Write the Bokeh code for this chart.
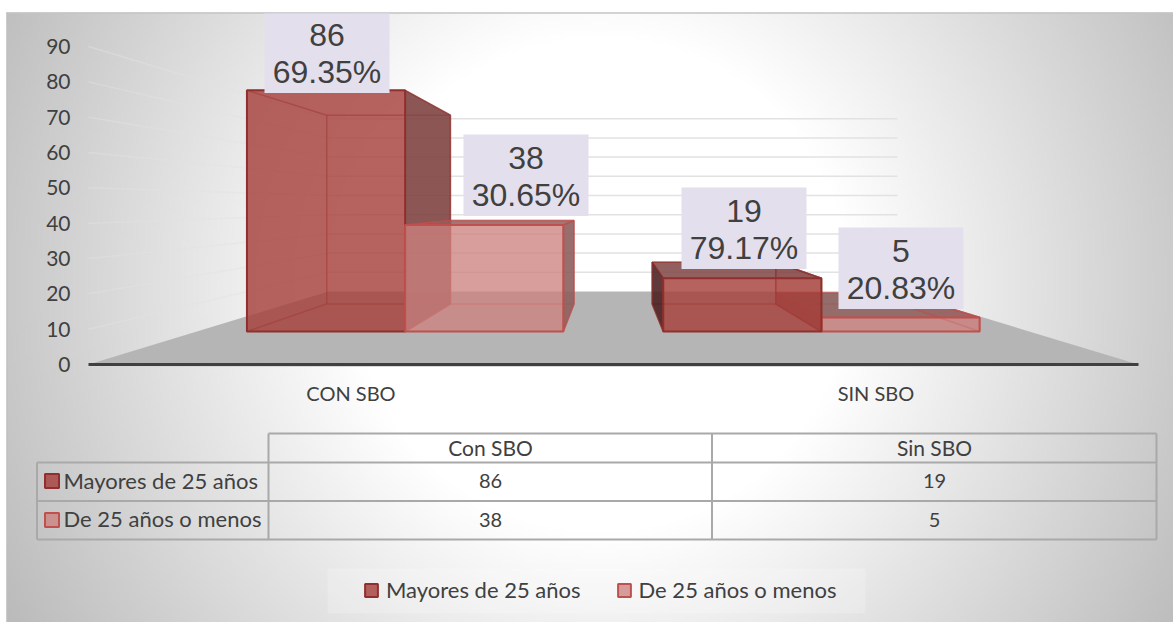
import numpy as np
from bokeh.core.properties import value
from bokeh.embed import file_html
from bokeh.models import FixedTicker, Legend, LegendItem, Range1d
from bokeh.plotting import figure
from bokeh.resources import INLINE

# ---------- data ----------
categories = ["CON SBO", "SIN SBO"]
table_categories = ["Con SBO", "Sin SBO"]
series_names = ["Mayores de 25 años", "De 25 años o menos"]
mayores = [86, 19]
menores = [38, 5]
pct_mayores = ["69.35%", "79.17%"]
pct_menores = ["30.65%", "20.83%"]
y_ticks = [0, 10, 20, 30, 40, 50, 60, 70, 80, 90]

# ---------- layout (page pixels) ----------
W, H = 1173, 622
K0, K1 = 3.533, 1.92          # px per unit, front and back wall
FLOOR0, FLOOR1 = 364, 291     # floor y, front and back
XL0, XL1, XR0, XR1 = 88, 328, 1138, 897
T_FRONT, T_BACK = 0.452, 0.83
INK = "#404040"
FONT = "Lato"


def Y(py):
    return (FLOOR0 - py) / K0


def proj(X, t, v):
    xl = XL0 + (XL1 - XL0) * t
    xr = XR0 + (XR1 - XR0) * t
    py = FLOOR0 + (FLOOR1 - FLOOR0) * t - v * (K0 + (K1 - K0) * t)
    return xl + X * (xr - xl), Y(py)


p = figure(width=W, height=H, output_backend="svg", toolbar_location=None,
           x_range=Range1d(0, W), y_range=Range1d(Y(H), Y(0)),
           min_border=0, outline_line_color=None, background_fill_color="white")
p.grid.visible = False

# ---------- background ----------
step = 3
xs = np.arange(6, 1173, step) + step / 2
ys = np.arange(12, 622, step) + step / 2
gx, gy = np.meshgrid(xs, ys[::-1])
r = np.hypot(gx - 600, gy - 285)
shade = np.clip(255 - np.clip(r - 250, 0, None) * 0.158, 0, 255).astype(np.uint8)
img = np.zeros(shade.shape, dtype=np.uint32)
view = img.view(np.uint8).reshape(shade.shape + (4,))
view[..., 0] = view[..., 1] = view[..., 2] = shade
view[..., 3] = 255
p.image_rgba(image=[img], x=6, y=Y(622), dw=1167, dh=Y(12) - Y(622))
p.line([6, 1173], [Y(12.5)] * 2, line_color="#c4c4c4", line_width=1.5)
p.line([6.5, 6.5], [Y(12), Y(622)], line_color="#bdbdbd", line_width=1)

# ---------- walls and floor ----------
grid_vals = [v for v in y_ticks if v > 0]
side = [[proj(0, 0, v), proj(0, 1, v)] for v in grid_vals]
back = [[proj(0, 1, v), proj(1, 1, v)] for v in grid_vals]
p.multi_line([[a[0], b[0]] for a, b in side], [[a[1], b[1]] for a, b in side],
             line_color="#e2e2e2", line_alpha=0.45, line_width=1.5)
p.multi_line([[a[0], b[0]] for a, b in back], [[a[1], b[1]] for a, b in back],
             line_color="#e2e2e2", line_width=1.5)
corners = [proj(0, 0, 0), proj(0, 1, 0), proj(1, 1, 0), proj(1, 0, 0)]
p.patch([c[0] for c in corners], [c[1] for c in corners],
        fill_color="#b5b5b5", line_color=None)

# ---------- bars ----------
STY = [
    dict(fill="#a63f3b", alpha=0.82, line="#8f302e", dark="#7f4442", left="#4a1f1f"),
    dict(fill="#cc817e", alpha=0.77, line="#c0504d", dark="#8e5f5d", left="#8e5f5d"),
]


def face(pts, color, alpha, line):
    p.patch([q[0] for q in pts], [q[1] for q in pts], fill_color=color, fill_alpha=alpha,
            line_color=line, line_width=1.5, line_alpha=0.6)


def edge(a, b, color):
    p.line([a[0], b[0]], [a[1], b[1]], line_color=color, line_width=1.5, line_alpha=0.6)


def draw_bar(xa, xb, v, s):
    st = STY[s]
    fb0, fb1 = proj(xa, T_FRONT, 0), proj(xb, T_FRONT, 0)
    ft0, ft1 = proj(xa, T_FRONT, v), proj(xb, T_FRONT, v)
    bb0, bb1 = proj(xa, T_BACK, 0), proj(xb, T_BACK, 0)
    bt0, bt1 = proj(xa, T_BACK, v), proj(xb, T_BACK, v)
    edge(bb0, bb1, st["line"]); edge(bt0, bt1, st["line"])
    edge(bb0, bt0, st["line"]); edge(bb1, bt1, st["line"])
    edge(fb0, bb0, st["line"]); edge(fb1, bb1, st["line"])
    edge(ft0, bt0, st["line"]); edge(ft1, bt1, st["line"])
    if bt0[1] > ft0[1]:
        face([ft0, ft1, bt1, bt0], st["dark"], 0.85, st["line"])
    if bb1[0] > fb1[0]:
        face([ft1, bt1, bb1, fb1], st["dark"], 0.9, st["line"])
    else:
        face([ft1, bt1, bb1, fb1], st["line"], 0.12, st["line"])
    if bb0[0] < fb0[0]:
        face([ft0, bt0, bb0, fb0], st["left"], 0.88, st["line"])
    return p.quad(left=fb0[0], right=fb1[0], top=ft0[1], bottom=fb0[1],
                  fill_color=st["fill"], fill_alpha=st["alpha"],
                  line_color=st["line"], line_width=2)


BAR_W = 0.19
CENTERS = [0.25, 0.75]
r1 = draw_bar(CENTERS[0] - BAR_W, CENTERS[0], mayores[0], 0)
r2 = draw_bar(CENTERS[0], CENTERS[0] + BAR_W, menores[0], 1)
draw_bar(CENTERS[1], CENTERS[1] + BAR_W, menores[1], 1)
draw_bar(CENTERS[1] - BAR_W, CENTERS[1], mayores[1], 0)

# ---------- base axis line ----------
p.line([XL0, XR0], [0, 0], line_color=INK, line_width=3)
p.line([XL0, XR0], [Y(366), Y(366)], line_color="#d8d8d8", line_width=1)

# ---------- axes ----------
p.yaxis.fixed_location = XL0
p.yaxis.ticker = FixedTicker(ticks=y_ticks)
p.yaxis.axis_line_color = None
p.yaxis.major_tick_line_color = None
p.yaxis.minor_tick_line_color = None
p.yaxis.major_tick_out = 0
p.yaxis.major_label_standoff = 18
p.yaxis.major_label_text_font = FONT
p.yaxis.major_label_text_font_size = "21px"
p.yaxis.major_label_text_color = INK

cat_ticks = [proj(c, 0, 0)[0] for c in CENTERS]
p.xaxis.fixed_location = 0
p.xaxis.ticker = FixedTicker(ticks=cat_ticks)
p.xaxis.major_label_overrides = dict(zip(cat_ticks, categories))
p.xaxis.axis_line_color = None
p.xaxis.major_tick_line_color = None
p.xaxis.minor_tick_line_color = None
p.xaxis.major_tick_out = 0
p.xaxis.major_label_standoff = 16
p.xaxis.major_label_text_font = FONT
p.xaxis.major_label_text_font_size = "20px"
p.xaxis.major_label_text_color = INK

# ---------- data labels ----------
box_cx = [326.5, 525.5, 743.5, 900.5]
box_top = [11, 134, 187, 227]
lab_vals = [mayores[0], menores[0], mayores[1], menores[1]]
lab_pcts = [pct_mayores[0], pct_menores[0], pct_mayores[1], pct_menores[1]]
p.quad(left=[c - 62.5 for c in box_cx], right=[c + 62.5 for c in box_cx],
       top=[Y(max(t, 13)) for t in box_top], bottom=[Y(t + 81.5) for t in box_top],
       fill_color="#e4dfec", line_color=None)
p.text(box_cx, [Y(t + 23) for t in box_top], text=[str(v) for v in lab_vals],
       text_align="center", text_baseline="middle", text_color=INK,
       text_font=value("Liberation Sans"), text_font_size="32px")
p.text(box_cx, [Y(t + 60) for t in box_top], text=lab_pcts,
       text_align="center", text_baseline="middle", text_color=INK,
       text_font=value("Liberation Sans"), text_font_size="32px")

# ---------- data table ----------
TC = "#a9a9a9"
TX = [36.5, 268, 711.5, 1156]
TY = [433, 462, 500.5, 539]
seg_x = [[TX[1], TX[3]], [TX[0], TX[3]], [TX[0], TX[3]], [TX[0], TX[3]],
         [TX[0], TX[0]], [TX[1], TX[1]], [TX[2], TX[2]], [TX[3], TX[3]]]
seg_y = [[TY[0]] * 2, [TY[1]] * 2, [TY[2]] * 2, [TY[3]] * 2,
         [TY[1], TY[3]], [TY[0], TY[3]], [TY[0], TY[3]], [TY[0], TY[3]]]
p.multi_line(seg_x, [[Y(a) for a in s] for s in seg_y], line_color=TC, line_width=2)

col_c = [490, 934]
p.text(col_c, [Y(447)] * 2, text=table_categories, text_align="center", text_baseline="middle",
       text_color=INK, text_font=value(FONT), text_font_size="21px")
tx, ty, tt = [], [], []
for rc, row in zip([480.5, 519], [mayores, menores]):
    for cc, cell in zip(col_c, row):
        tx.append(cc); ty.append(Y(rc)); tt.append(str(cell))
p.text(tx, ty, text=tt, text_align="center", text_baseline="middle", text_color=INK,
       text_font=value(FONT), text_font_size="20px")
p.text([63, 63], [Y(480), Y(518)], text=series_names, text_align="left", text_baseline="middle",
       text_color=INK, text_font=value(FONT), text_font_size="22px")
for s, top in enumerate([473.5, 512.5]):
    p.quad(left=44.5, right=58.5, top=Y(top), bottom=Y(top + 14),
           fill_color=STY[s]["fill"], fill_alpha=STY[s]["alpha"],
           line_color=STY[s]["line"], line_width=2)

# ---------- legend ----------
p.quad(left=327, right=865, top=Y(568), bottom=Y(613), fill_color="white", fill_alpha=0.2,
       line_color=None)
legend = Legend(items=[LegendItem(label=series_names[0], renderers=[r1]),
                       LegendItem(label=series_names[1], renderers=[r2])],
                orientation="horizontal", location=(363, 19), margin=0, padding=5,
                spacing=35, glyph_width=16, glyph_height=16, label_standoff=7,
                background_fill_alpha=0, border_line_color=None, label_text_font=FONT,
                label_text_font_size="22px", label_text_color=INK)
p.add_layout(legend, "center")

open("out.html", "w").write(file_html(p, INLINE))
